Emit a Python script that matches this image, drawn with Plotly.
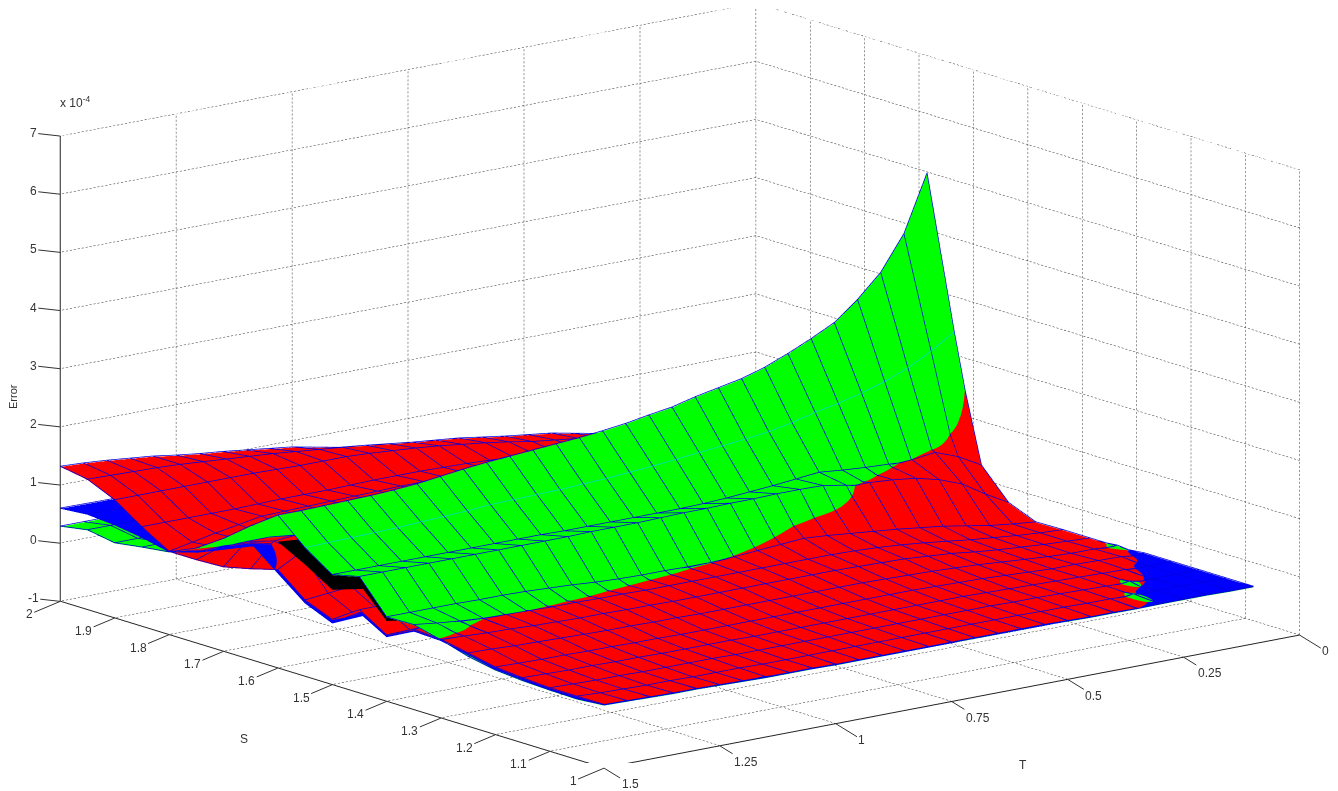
import numpy as np
import plotly.graph_objects as go

T = [.1,.15,.2,.25,.3,.35,.4,.45,.5,.55,.6,.65,.7,.75,.8,.85,.9,.95,1.0,1.05,1.1,1.15,1.2,1.25,1.3,1.35,1.4,1.45,1.5]
T_BLUE = [.1,.15,.2,.25,.3,.35,.4,.5,1.0,1.3,1.4,1.5]
S = [1.0,1.05,1.1,1.15,1.2,1.25,1.3,1.35,1.4,1.45,1.5,1.55,1.6,1.65,1.7,1.75,1.8,1.85,1.9,1.95,2.0]
T_BLACK = [1.3,1.4,1.5]
S_BLACK = [1.4,1.45,1.5,1.55,1.6]

RED = [
 [-.025,-.025,-.015,-.015,-.015,-.02,-.01,-.01,.00,.01,.01,.01,.01,.01,.01,.01,.01,.01,.01,.02,.02,.02,.03,.04,.05,.05,.06,.07,.08],
 [-.05,-.05,-.05,-.04,-.01,.00,.00,.01,.01,.02,.02,.02,.02,.02,.02,.02,.02,.02,.02,.02,.02,.03,.03,.03,.04,.04,.05,.06,.08],
 [-.05,-.05,-.04,-.01,.00,.01,.02,.03,.03,.04,.04,.04,.04,.04,.04,.04,.04,.04,.04,.04,.04,.05,.05,.05,.05,.06,.06,.07,.08],
 [-.05,-.045,-.01,.00,.01,.02,.03,.04,.05,.06,.06,.06,.06,.06,.06,.06,.06,.06,.06,.07,.07,.07,.07,.08,.08,.09,.09,.10,.11],
 [-.05,-.01,.00,.01,.01,.03,.05,.07,.08,.09,.10,.10,.10,.10,.10,.10,.10,.10,.10,.10,.10,.11,.11,.12,.12,.13,.13,.14,.15],
 [-.05,-.02,-.02,.00,.03,.06,.09,.11,.13,.14,.15,.16,.16,.16,.16,.16,.16,.16,.16,.17,.17,.18,.18,.19,.20,.21,.22,.24,.25],
 [-.05,-.03,-.01,.02,.05,.09,.14,.17,.20,.21,.22,.23,.23,.23,.23,.23,.23,.23,.23,.24,.24,.25,.25,.26,.27,.29,.30,.32,.34],
 [-.05,-.03,.00,.04,.08,.13,.18,.22,.25,.27,.28,.28,.28,.28,.28,.28,.28,.28,.28,.29,.29,.30,.30,.31,.32,.33,.35,.36,.37],
 [-.06,-.02,.03,.10,.17,.22,.27,.31,.35,.39,.42,.39,.36,.33,.31,.30,.29,.28,.27,.26,.25,.24,.22,.20,.18,.16,.15,.14,.13],
 [.13,.35,.60,.75,.85,.90,.93,.93,.93,.90,.85,.78,.70,.65,.60,.57,.55,.52,.50,.47,.45,.44,.42,.42,.42,.42,.42,.42,.42],
 [.63,.85,1.0,.95,.93,.90,.85,.82,.80,.75,.70,.65,.60,.55,.50,.45,.40,.35,.30,.26,.22,.19,.17,.15,.13,.12,.11,.11,.11],
 [2.63,2.0,1.3,1.2,1.1,1.05,1.0,.95,.9,.85,.8,.78,.75,.72,.7,.68,.65,.62,.6,.58,.55,.52,.5,.48,.45,.42,.38,.34,.30],
 [1.2,1.2,1.2,1.2,1.2,1.2,1.15,1.12,1.1,1.08,1.05,1.02,1.0,.99,.98,.96,.95,.93,.92,.91,.9,.88,.85,.82,.85,.88,.9,.9,.68],
 [.3,.4,.5,.55,.6,.65,.7,.72,.75,.78,.8,.81,.82,.83,.84,.85,.85,.85,.85,.83,.8,.78,.75,.85,.9,.95,.98,.95,.55],
 [.2,.3,.4,.5,.55,.6,.65,.68,.7,.72,.75,.76,.78,.79,.8,.81,.82,.82,.82,.8,.78,.74,.7,.7,.72,.75,.8,.8,.44],
 [.1,.2,.3,.4,.45,.5,.55,.58,.62,.66,.7,.72,.74,.76,.78,.79,.8,.8,.8,.79,.78,.75,.72,.68,.65,.62,.6,.55,.42],
 [.05,.1,.2,.3,.35,.42,.48,.52,.56,.6,.64,.67,.7,.72,.75,.76,.77,.78,.78,.77,.76,.75,.74,.73,.72,.65,.58,.5,.42],
 [.0,.05,.12,.2,.28,.35,.42,.47,.52,.56,.6,.64,.68,.7,.72,.73,.74,.74,.74,.73,.72,.72,.72,.71,.70,.70,.70,.70,.70],
 [-.02,.02,.08,.15,.24,.32,.4,.48,.55,.6,.65,.72,.78,.83,.88,.92,.95,.98,1.0,1.0,1.0,1.01,1.02,1.02,1.02,1.02,1.02,1.02,1.02],
 [-.03,.0,.05,.1,.18,.26,.34,.42,.5,.55,.6,.66,.72,.76,.8,.85,.9,.94,.98,1.02,1.06,1.09,1.12,1.15,1.18,1.2,1.21,1.22,1.23],
 [-.05,-.04,-.03,-.02,.03,.08,.12,.16,.2,.27,.34,.4,.46,.52,.58,.65,.72,.8,.88,.93,.98,1.03,1.07,1.12,1.18,1.22,1.26,1.29,1.31],
]

GREEN = [
 [-.03,-.03,-.02,-.02,-.02,-.025,-.02,-.02,-.01,.00,.00,.00,.00,.00,.00,.00,.00,.00,.00,.01,.01,.01,.02,.03,.04,.04,.05,.06,.07],
 [-.08,-.08,-.08,-.07,.01,-.04,-.04,-.03,-.03,-.02,-.02,-.02,-.02,-.02,-.02,-.02,-.02,-.02,-.02,-.02,-.02,-.02,-.01,-.01,.0,.0,.01,.02,.03],
 [-.08,-.08,-.07,.01,-.04,-.03,-.02,-.01,-.01,.0,.0,.0,.0,.0,.0,.0,.0,.0,.0,.0,.0,.0,.01,.01,.01,.02,.02,.03,.04],
 [-.08,-.08,-.06,-.04,-.03,-.02,-.01,.0,.01,.02,.02,.02,.02,.02,.02,.02,.02,.02,.02,.03,.03,.03,.03,.04,.04,.05,.05,.06,.06],
 [-.08,-.05,-.04,-.03,-.03,-.01,.01,.03,.04,.05,.06,.06,.06,.06,.06,.06,.06,.06,.06,.06,.06,.07,.07,.07,.08,.08,.09,.09,.10],
 [-.03,-.05,-.05,-.03,.0,.03,.06,.08,.1,.11,.12,.13,.13,.13,.13,.13,.13,.13,.13,.14,.14,.15,.15,.15,.16,.17,.18,.18,.19],
 [-.08,-.07,-.05,-.02,.01,.05,.1,.13,.16,.17,.18,.19,.19,.19,.19,.19,.19,.19,.2,.2,.21,.21,.22,.23,.25,.26,.28,.30,.33],
 [-.12,-.11,-.1,-.06,-.02,.0,.02,.05,.08,.1,.12,.13,.14,.15,.15,.16,.16,.17,.17,.18,.2,.22,.24,.27,.30,.33,.36,.40,.45],
 [-.1,-.08,-.05,.0,.05,.1,.15,.19,.22,.26,.3,.31,.31,.31,.31,.31,.32,.32,.33,.35,.38,.4,.42,.43,.43,.44,.44,.44,.44],
 [0,.2,.4,.55,.7,.8,.88,.96,1.03,1.04,1.04,1.03,1.03,1.02,1.02,1.01,1.0,1.0,1.0,.99,.99,.99,.99,.99,.99,.99,.99,.99,.99],
 [.4,.62,.85,.92,.95,.97,1.0,1.04,1.0,.96,.93,.9,.88,.87,.87,.87,.87,.87,.87,.88,.88,.88,.88,.88,.88,.88,.88,.88,.88],
 [2.78,2.52,2.31,2.15,2.03,1.93,1.85,1.75,1.67,1.62,1.58,1.54,1.5,1.46,1.43,1.4,1.38,1.36,1.35,1.34,1.33,1.3,1.28,1.26,1.24,1.23,1.22,1.21,1.2],
 [5.37,4.4,3.81,3.42,3.1,2.9,2.72,2.56,2.44,2.36,2.28,2.18,2.12,2.05,2.0,1.96,1.93,1.9,1.87,1.84,1.8,1.75,1.7,1.67,1.65,1.64,1.63,1.62,1.62],
 [1.2,1.2,1.2,1.2,1.2,1.2,1.2,1.18,1.15,1.12,1.1,1.08,1.05,1.02,1.0,.98,.95,.93,.92,.91,.9,.92,.95,1.0,1.1,1.15,1.2,1.25,1.29],
 [.8,.8,.8,.8,.8,.8,.78,.76,.75,.72,.7,.69,.68,.66,.65,.63,.62,.61,.6,.6,.6,.6,.6,.64,.7,.76,.82,.88,.93],
 [.3,.3,.3,.3,.3,.3,.32,.34,.35,.38,.4,.42,.45,.46,.48,.49,.5,.5,.5,.5,.5,.5,.5,.5,.5,.52,.55,.58,.62],
 [.1,.1,.1,.1,.12,.15,.18,.2,.22,.25,.28,.3,.32,.34,.35,.37,.38,.39,.4,.4,.4,.4,.4,.4,.4,.4,.4,.4,.41],
 [.05,.05,.08,.1,.12,.14,.16,.18,.2,.22,.25,.26,.28,.29,.3,.31,.32,.32,.33,.33,.34,.34,.35,.35,.35,.35,.35,.35,.35],
 [.02,.02,.05,.08,.1,.12,.14,.16,.18,.2,.22,.24,.25,.26,.27,.27,.28,.28,.28,.28,.28,.28,.28,.28,.28,.28,.28,.28,.28],
 [.0,.0,.02,.05,.08,.1,.12,.14,.16,.18,.2,.22,.24,.26,.28,.29,.3,.31,.32,.32,.33,.33,.34,.34,.35,.35,.36,.36,.36],
 [-.06,-.05,-.04,-.03,.0,.04,.08,.1,.12,.15,.18,.19,.2,.21,.22,.23,.24,.25,.26,.26,.27,.27,.28,.28,.28,.28,.28,.28,.28],
]

BLUE = [
 [-.02,-.02,-.01,-.01,-.01,-.02,-.015,-.005,.005,.045,.055,.075],
 [-.02,-.02,-.01,-.01,-.015,-.02,-.03,-.03,-.01,.0,.01,.04],
 [-.02,-.02,-.03,-.03,-.03,-.03,-.03,-.02,.0,.02,.03,.05],
 [-.02,-.02,-.03,-.03,-.03,-.02,-.01,.0,.02,.05,.06,.08],
 [-.02,-.04,-.03,-.03,-.02,-.01,.0,.03,.06,.09,.1,.12],
 [-.07,-.06,-.05,-.03,-.01,.02,.04,.08,.12,.17,.19,.22],
 [-.07,-.06,-.04,-.02,.02,.05,.08,.14,.18,.24,.27,.32],
 [-.09,-.07,-.05,-.02,.01,.04,.08,.14,.18,.3,.33,.34],
 [-.08,-.05,-.02,.03,.08,.13,.17,.25,.24,.15,.13,.1],
 [.05,.2,.4,.55,.65,.72,.78,.82,.45,.40,.38,.37],
 [.35,.55,.75,.82,.85,.85,.82,.75,.28,.12,.09,.05],
 [2.4,1.9,1.25,1.15,1.05,1,.95,.85,.55,.4,.33,.25],
 [1.1,1.1,1.1,1.1,1.1,1.1,1.1,1.05,.9,.8,.6,.62],
 [.9,.9,.9,.9,.9,.9,.9,.85,.75,.8,.8,1.0],
 [.7,.7,.7,.7,.7,.7,.7,.65,.58,.6,.6,.8],
 [.2,.2,.2,.2,.2,.25,.28,.32,.45,.44,.48,.55],
 [.05,.05,.08,.1,.12,.15,.2,.3,.5,.45,.45,.415],
 [.0,.03,.06,.1,.15,.2,.25,.35,.6,.6,.56,.52],
 [-.02,.0,.04,.08,.12,.18,.24,.4,.65,.6,.6,.59],
 [-.02,.0,.03,.07,.12,.18,.25,.4,.65,.62,.62,.63],
 [-.02,-.02,-.01,.0,.05,.1,.16,.25,.6,.58,.58,.59],
]

BLACK = [
 [.2,.25,.38],
 [.6,.7,.87],
 [.4,.5,.63],
 [.8,.85,.92],
 [1.0,1.1,1.17],
]

T_TICKS = [0, .25, .5, .75, 1, 1.25, 1.5]
S_TICKS = [1, 1.1, 1.2, 1.3, 1.4, 1.5, 1.6, 1.7, 1.8, 1.9, 2]
Z_TICKS = [-1, 0, 1, 2, 3, 4, 5, 6, 7]
T_LABELS = ["0", "0.25", "0.5", "0.75", "1", "1.25", "1.5"]
S_LABELS = ["1", "1.1", "1.2", "1.3", "1.4", "1.5", "1.6", "1.7", "1.8", "1.9", "2"]
Z_LABELS = ["-1", "0", "1", "2", "3", "4", "5", "6", "7"]

for name, table, cols in (("RED", RED, T), ("GREEN", GREEN, T), ("BLUE", BLUE, T_BLUE)):
    assert len(table) == len(S), name
    for i, row in enumerate(table):
        assert len(row) == len(cols), (name, i, len(row))

T_MIN, T_MAX = T_TICKS[0], T_TICKS[-1]
S_MIN, S_MAX = S_TICKS[0], S_TICKS[-1]
Z_MIN, Z_MAX = Z_TICKS[0], Z_TICKS[-1]


def sheet(x, y, z, colour):
    return go.Surface(
        x=x, y=y, z=z,
        colorscale=[[0, colour], [1, colour]],
        showscale=False, hoverinfo="skip",
        lighting=dict(ambient=1, diffuse=0, specular=0, fresnel=0, roughness=1),
        contours=dict(x=dict(show=False), y=dict(show=False), z=dict(show=False)),
    )


def mesh(x, y, z, skip_row=None):
    """Blue edges of a sheet: one line per row and per column of its table, a hair above it."""
    mx, my, mz = [], [], []
    for i, s in enumerate(y):
        if s == skip_row:
            continue
        mx += list(x) + [None]
        my += [s] * len(x) + [None]
        mz += [v + .012 for v in z[i]] + [None]
    for j, t in enumerate(x):
        mx += [t] * len(y) + [None]
        my += list(y) + [None]
        mz += [row[j] + .012 for row in z] + [None]
    return go.Scatter3d(x=mx, y=my, z=mz, mode="lines", hoverinfo="skip", showlegend=False,
                        line=dict(color="#0000e0", width=1.5))


gx, gy, gz = [], [], []


def dotted(a, b, n):
    """One grid line between two box points, drawn as n short dots."""
    ts = np.linspace(0, 1, n, endpoint=False)
    step = .55 / n
    for u in ts:
        for v in (u, u + step):
            gx.append(a[0] + (b[0] - a[0]) * v)
            gy.append(a[1] + (b[1] - a[1]) * v)
            gz.append(a[2] + (b[2] - a[2]) * v)
        gx.append(None); gy.append(None); gz.append(None)


for t in T_TICKS:
    dotted((t, S_MAX, Z_MIN), (t, S_MAX, Z_MAX), 117)
    dotted((t, S_MIN, Z_MIN), (t, S_MAX, Z_MIN), 142)
for s in S_TICKS:
    dotted((T_MIN, s, Z_MIN), (T_MIN, s, Z_MAX), 117)
    dotted((T_MIN, s, Z_MIN), (T_MAX, s, Z_MIN), 177)
for k in Z_TICKS:
    dotted((T_MIN, S_MAX, k), (T_MAX, S_MAX, k), 177)
    dotted((T_MIN, S_MIN, k), (T_MIN, S_MAX, k), 142)

grid = go.Scatter3d(x=gx, y=gy, z=gz, mode="lines", hoverinfo="skip", showlegend=False,
                    line=dict(color="#333333", width=1))

MID_S = 1.55
i_mid = S.index(MID_S)
mid = go.Scatter3d(x=T, y=[MID_S] * len(T), z=[v + .012 for v in GREEN[i_mid]], mode="lines",
                   hoverinfo="skip", showlegend=False, line=dict(color="#00d8c8", width=1.5))

fig = go.Figure([grid,
                 sheet(T_BLACK, S_BLACK, BLACK, "#000000"),
                 sheet(T, S, GREEN, "#00ff00"),
                 sheet(T_BLUE, S, BLUE, "#0000ff"),
                 sheet(T, S, RED, "#ff0000"),
                 mesh(T, S, GREEN, skip_row=MID_S), mesh(T_BLUE, S, BLUE), mesh(T, S, RED),
                 mid])


def axis(rng):
    return dict(title=dict(text=""), range=rng, showticklabels=False, ticks="",
                showgrid=False, zeroline=False, showbackground=False, showspikes=False,
                showline=True, linecolor="#222222", linewidth=2)


def tick(t, s, k, text, dx, dy):
    return dict(x=t, y=s, z=k, text=text, showarrow=True, arrowhead=0, arrowwidth=1, arrowcolor="#333333",
                ax=dx, ay=dy, font=dict(family="Liberation Sans", size=12, color="#333333"))


ticks = ([tick(v, S_MIN, Z_MIN, txt, 26, 16) for v, txt in zip(T_TICKS, T_LABELS)]
         + [tick(T_MAX, v, Z_MIN, txt, -31, 13) for v, txt in zip(S_TICKS, S_LABELS)]
         + [tick(T_MAX, S_MAX, v, txt, -27, -3) for v, txt in zip(Z_TICKS, Z_LABELS)])


def note(text, px, py, size, **kw):
    # the page body adds 8 px of margin around the figure
    return dict(text=text, x=(px - 8) / 1338, y=1 - (py - 8) / 791, xref="paper", yref="paper", showarrow=False,
                xanchor="center", yanchor="middle", font=dict(size=size, color="#333333"), **kw)


fig.update_layout(
    width=1338, height=791, margin=dict(l=0, r=0, t=0, b=0),
    paper_bgcolor="white", showlegend=False, font=dict(family="Liberation Sans", color="#333333"),
    scene=dict(
        domain=dict(x=[.0045, 1], y=[.0452, 1]),
        xaxis=axis([T_MAX, T_MIN]),
        yaxis=axis([S_MIN, S_MAX]),
        zaxis=axis([Z_MIN, Z_MAX]),
        aspectmode="manual", aspectratio=dict(x=2.348, y=2.325, z=1.27),
        camera=dict(projection=dict(type="orthographic"),
                    up=dict(x=0, y=0, z=1), center=dict(x=0, y=0, z=0),
                    eye=dict(x=-1.2, y=-1.52, z=.483)),
        annotations=ticks,
    ),
    annotations=[
        note("x 10<sup>-4</sup>", 75, 102, 12),
        note("Error", 13, 397, 11, textangle=-90),
        note("S", 244, 739, 12),
        note("T", 1023, 765, 12),
    ],
)
fig.write_html("out.html")
